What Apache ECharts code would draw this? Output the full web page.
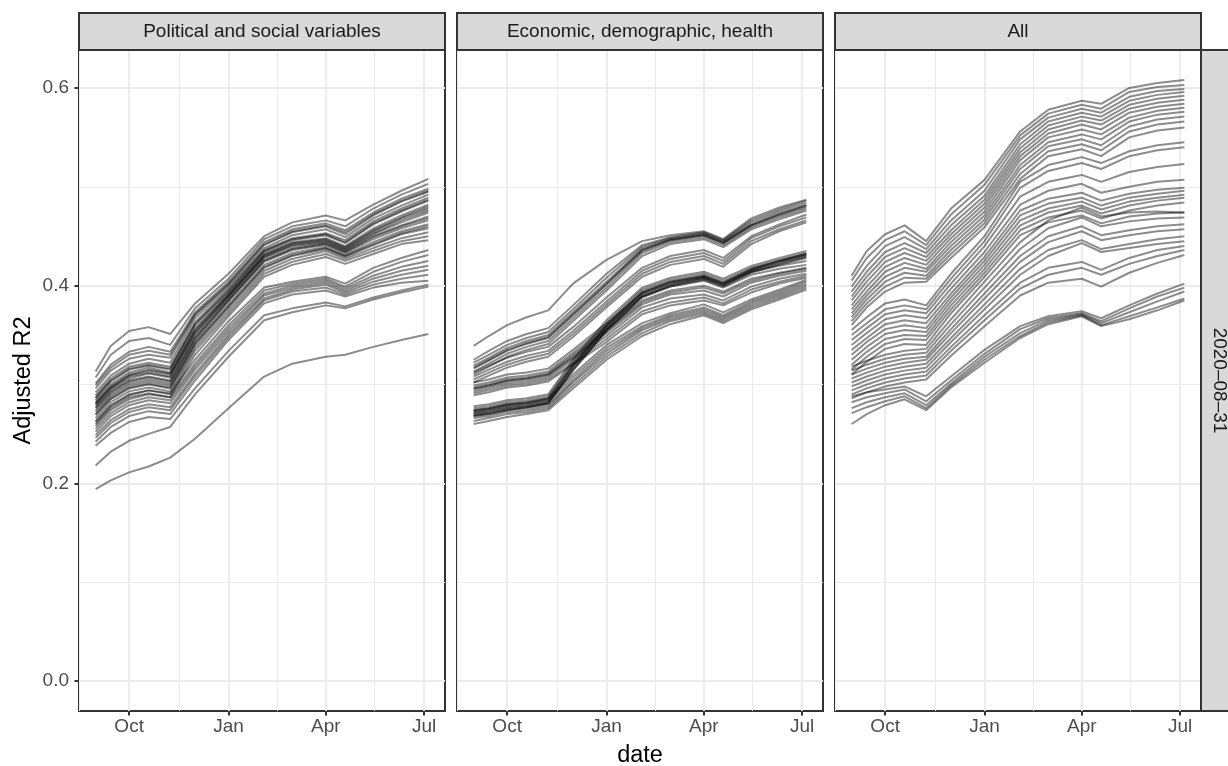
<!DOCTYPE html>
<html>
<head>
<meta charset="utf-8">
<script src="https://cdn.jsdelivr.net/npm/echarts@6/dist/echarts.min.js"></script>
<style>
  html, body { margin: 0; padding: 0; background: #ffffff; }
  #chart { width: 1228px; height: 766px; }
</style>
</head>
<body>
<div id="chart"></div>
<script>
// Facet titles and the single row label
const panelTitles = ['Political and social variables', 'Economic, demographic, health', 'All'];
const rowLabel = '2020\u201308\u201331';
const yTitle = 'Adjusted R2';
const xTitle = 'date';

// Dates at which each model's adjusted R2 was recorded
const sampleDates = ['2020-08-31', '2020-09-14', '2020-10-01', '2020-10-19', '2020-11-08', '2020-12-01', '2021-01-01',
                     '2021-02-03', '2021-03-01', '2021-04-01', '2021-04-19', '2021-05-15', '2021-06-10', '2021-07-05'];

// Axis breaks
const xTickDates = ['2020-10-01', '2021-01-01', '2021-04-01', '2021-07-01'];
const xTickLabels = ['Oct', 'Jan', 'Apr', 'Jul'];
const xMinorDates = ['2020-08-16', '2020-11-16', '2021-02-15', '2021-05-16'];
const yTicks = [0, 0.2, 0.4, 0.6];
const yMinorTicks = [0.1, 0.3, 0.5];

// Adjusted R2 per model (one row per model, one value per sample date)
const politicalSocial = [
  [0.313,0.339,0.354,0.358,0.351,0.382,0.412,0.450,0.464,0.471,0.466,0.482,0.496,0.508],
  [0.307,0.330,0.344,0.347,0.340,0.377,0.407,0.447,0.460,0.466,0.460,0.478,0.492,0.503],
  [0.301,0.320,0.333,0.338,0.333,0.373,0.404,0.444,0.457,0.463,0.456,0.474,0.488,0.498],
  [0.299,0.317,0.330,0.334,0.330,0.371,0.402,0.442,0.455,0.461,0.454,0.472,0.486,0.496],
  [0.296,0.314,0.326,0.330,0.327,0.370,0.401,0.441,0.454,0.460,0.452,0.471,0.485,0.495],
  [0.292,0.309,0.321,0.326,0.322,0.367,0.399,0.438,0.451,0.457,0.449,0.468,0.481,0.492],
  [0.289,0.306,0.318,0.322,0.318,0.363,0.397,0.436,0.448,0.453,0.446,0.465,0.478,0.489],
  [0.287,0.304,0.316,0.320,0.316,0.361,0.395,0.435,0.447,0.452,0.444,0.463,0.476,0.487],
  [0.286,0.303,0.315,0.319,0.315,0.360,0.394,0.434,0.446,0.451,0.443,0.462,0.475,0.486],
  [0.284,0.300,0.312,0.317,0.312,0.357,0.392,0.432,0.444,0.448,0.440,0.458,0.471,0.482],
  [0.282,0.298,0.310,0.315,0.311,0.355,0.391,0.431,0.443,0.447,0.439,0.456,0.469,0.480],
  [0.281,0.297,0.309,0.314,0.310,0.354,0.390,0.430,0.442,0.446,0.438,0.455,0.468,0.478],
  [0.280,0.296,0.308,0.312,0.308,0.352,0.389,0.429,0.441,0.445,0.437,0.453,0.466,0.476],
  [0.279,0.295,0.306,0.311,0.307,0.351,0.388,0.428,0.440,0.444,0.436,0.452,0.464,0.474],
  [0.277,0.293,0.304,0.308,0.304,0.348,0.386,0.426,0.438,0.443,0.435,0.450,0.461,0.470],
  [0.276,0.292,0.303,0.307,0.303,0.347,0.385,0.425,0.437,0.442,0.434,0.449,0.460,0.468],
  [0.274,0.290,0.301,0.305,0.301,0.345,0.384,0.424,0.436,0.441,0.433,0.447,0.458,0.466],
  [0.272,0.288,0.299,0.303,0.299,0.343,0.381,0.421,0.433,0.439,0.431,0.444,0.455,0.462],
  [0.270,0.286,0.297,0.301,0.297,0.341,0.379,0.419,0.431,0.438,0.430,0.442,0.453,0.460],
  [0.269,0.285,0.296,0.300,0.296,0.340,0.378,0.418,0.430,0.437,0.429,0.441,0.452,0.458],
  [0.266,0.282,0.293,0.297,0.293,0.337,0.375,0.415,0.427,0.435,0.427,0.438,0.448,0.454],
  [0.263,0.279,0.290,0.294,0.290,0.334,0.372,0.412,0.424,0.432,0.425,0.435,0.445,0.450],
  [0.260,0.276,0.287,0.291,0.287,0.330,0.369,0.409,0.421,0.429,0.422,0.432,0.442,0.446],
  [0.262,0.278,0.289,0.294,0.291,0.325,0.364,0.398,0.404,0.409,0.402,0.418,0.428,0.436],
  [0.258,0.274,0.285,0.290,0.287,0.321,0.360,0.395,0.402,0.407,0.399,0.414,0.424,0.431],
  [0.255,0.271,0.282,0.287,0.284,0.318,0.357,0.392,0.400,0.405,0.397,0.410,0.419,0.425],
  [0.252,0.268,0.279,0.284,0.281,0.315,0.354,0.390,0.398,0.403,0.395,0.407,0.415,0.420],
  [0.249,0.264,0.275,0.280,0.277,0.311,0.351,0.387,0.396,0.401,0.393,0.404,0.411,0.416],
  [0.246,0.261,0.272,0.277,0.274,0.308,0.348,0.385,0.394,0.398,0.391,0.401,0.407,0.411],
  [0.242,0.257,0.268,0.273,0.270,0.304,0.345,0.382,0.391,0.395,0.389,0.398,0.403,0.405],
  [0.238,0.251,0.262,0.267,0.265,0.296,0.334,0.370,0.377,0.383,0.379,0.388,0.395,0.401],
  [0.218,0.232,0.243,0.250,0.257,0.290,0.328,0.365,0.373,0.380,0.377,0.386,0.393,0.399],
  [0.194,0.203,0.211,0.217,0.226,0.245,0.276,0.308,0.321,0.328,0.330,0.338,0.345,0.351]
];

const economicDemographicHealth = [
  [0.339,0.349,0.360,0.368,0.375,0.402,0.426,0.445,0.451,0.455,0.447,0.468,0.479,0.487],
  [0.325,0.334,0.344,0.351,0.357,0.380,0.412,0.441,0.449,0.454,0.446,0.466,0.477,0.486],
  [0.322,0.330,0.340,0.347,0.353,0.376,0.408,0.439,0.448,0.453,0.445,0.464,0.475,0.484],
  [0.319,0.327,0.337,0.344,0.350,0.373,0.404,0.437,0.447,0.452,0.444,0.462,0.473,0.482],
  [0.317,0.325,0.335,0.342,0.348,0.371,0.402,0.436,0.446,0.451,0.443,0.461,0.472,0.481],
  [0.316,0.324,0.334,0.341,0.347,0.370,0.401,0.435,0.446,0.451,0.443,0.461,0.471,0.480],
  [0.313,0.321,0.331,0.338,0.344,0.367,0.398,0.433,0.444,0.449,0.441,0.459,0.469,0.478],
  [0.310,0.318,0.328,0.335,0.341,0.364,0.395,0.430,0.442,0.447,0.439,0.457,0.467,0.476],
  [0.312,0.319,0.327,0.333,0.338,0.358,0.388,0.418,0.430,0.436,0.428,0.450,0.462,0.472],
  [0.308,0.315,0.323,0.329,0.334,0.354,0.384,0.415,0.427,0.433,0.425,0.448,0.460,0.469],
  [0.305,0.312,0.320,0.326,0.331,0.351,0.381,0.412,0.424,0.430,0.422,0.445,0.457,0.466],
  [0.302,0.309,0.317,0.323,0.328,0.348,0.378,0.409,0.421,0.427,0.419,0.442,0.455,0.464],
  [0.302,0.305,0.310,0.312,0.316,0.335,0.362,0.392,0.402,0.408,0.401,0.414,0.420,0.425],
  [0.299,0.302,0.307,0.309,0.313,0.332,0.359,0.389,0.399,0.405,0.398,0.411,0.417,0.421],
  [0.297,0.300,0.305,0.307,0.311,0.330,0.356,0.385,0.395,0.400,0.394,0.407,0.413,0.418],
  [0.296,0.299,0.304,0.306,0.310,0.328,0.354,0.383,0.393,0.398,0.392,0.405,0.412,0.417],
  [0.295,0.298,0.303,0.305,0.309,0.327,0.352,0.381,0.391,0.395,0.389,0.403,0.410,0.415],
  [0.293,0.296,0.301,0.303,0.307,0.325,0.349,0.378,0.387,0.391,0.385,0.399,0.407,0.412],
  [0.291,0.294,0.299,0.301,0.305,0.322,0.346,0.374,0.383,0.388,0.382,0.396,0.404,0.410],
  [0.289,0.292,0.297,0.299,0.303,0.320,0.343,0.371,0.380,0.385,0.380,0.393,0.402,0.408],
  [0.278,0.280,0.284,0.286,0.290,0.325,0.365,0.398,0.408,0.414,0.407,0.420,0.428,0.435],
  [0.276,0.278,0.282,0.284,0.288,0.322,0.362,0.396,0.406,0.412,0.405,0.418,0.426,0.433],
  [0.274,0.276,0.280,0.282,0.286,0.320,0.360,0.394,0.404,0.410,0.403,0.417,0.425,0.432],
  [0.273,0.275,0.279,0.281,0.285,0.319,0.359,0.393,0.404,0.410,0.403,0.416,0.425,0.432],
  [0.272,0.274,0.278,0.280,0.284,0.318,0.358,0.392,0.403,0.409,0.402,0.416,0.424,0.431],
  [0.270,0.272,0.276,0.278,0.282,0.316,0.356,0.390,0.401,0.408,0.401,0.415,0.423,0.430],
  [0.269,0.271,0.275,0.277,0.281,0.315,0.355,0.389,0.400,0.407,0.400,0.414,0.422,0.429],
  [0.268,0.270,0.274,0.277,0.281,0.314,0.354,0.388,0.399,0.406,0.399,0.413,0.421,0.428],
  [0.274,0.276,0.280,0.282,0.286,0.310,0.340,0.362,0.372,0.381,0.373,0.386,0.396,0.406],
  [0.271,0.273,0.277,0.279,0.283,0.307,0.337,0.359,0.370,0.378,0.370,0.384,0.394,0.404],
  [0.268,0.270,0.274,0.276,0.280,0.304,0.334,0.357,0.368,0.376,0.368,0.382,0.392,0.402],
  [0.266,0.268,0.272,0.274,0.278,0.302,0.331,0.355,0.366,0.374,0.366,0.380,0.390,0.400],
  [0.263,0.266,0.270,0.272,0.276,0.299,0.328,0.352,0.364,0.372,0.364,0.378,0.388,0.398],
  [0.260,0.263,0.267,0.270,0.274,0.296,0.325,0.349,0.361,0.370,0.362,0.376,0.386,0.396]
];

const allVariables = [
  [0.410,0.435,0.452,0.461,0.445,0.478,0.507,0.556,0.578,0.587,0.584,0.600,0.605,0.608],
  [0.405,0.428,0.446,0.455,0.441,0.472,0.502,0.552,0.574,0.583,0.579,0.596,0.601,0.603],
  [0.399,0.420,0.440,0.449,0.437,0.466,0.496,0.548,0.570,0.579,0.575,0.591,0.597,0.599],
  [0.394,0.414,0.434,0.443,0.433,0.461,0.491,0.543,0.566,0.575,0.571,0.587,0.593,0.596],
  [0.389,0.409,0.429,0.438,0.429,0.456,0.487,0.539,0.562,0.571,0.567,0.583,0.589,0.592],
  [0.385,0.404,0.424,0.433,0.425,0.452,0.483,0.535,0.558,0.567,0.563,0.579,0.585,0.588],
  [0.380,0.399,0.419,0.428,0.421,0.448,0.479,0.531,0.554,0.563,0.558,0.575,0.581,0.584],
  [0.376,0.394,0.414,0.423,0.417,0.444,0.475,0.527,0.550,0.558,0.553,0.570,0.577,0.580],
  [0.372,0.390,0.409,0.418,0.414,0.440,0.471,0.522,0.545,0.553,0.548,0.566,0.573,0.576],
  [0.368,0.386,0.404,0.413,0.410,0.436,0.467,0.518,0.541,0.548,0.542,0.561,0.568,0.571],
  [0.364,0.382,0.399,0.408,0.407,0.432,0.463,0.513,0.536,0.543,0.537,0.556,0.563,0.566],
  [0.360,0.378,0.394,0.403,0.404,0.428,0.459,0.508,0.531,0.538,0.531,0.550,0.557,0.560],
  [0.355,0.368,0.382,0.386,0.380,0.412,0.450,0.505,0.522,0.530,0.524,0.536,0.542,0.545],
  [0.350,0.362,0.376,0.380,0.376,0.407,0.445,0.499,0.516,0.524,0.518,0.531,0.537,0.540],
  [0.345,0.357,0.371,0.375,0.372,0.402,0.440,0.490,0.505,0.512,0.505,0.515,0.520,0.523],
  [0.340,0.352,0.366,0.370,0.367,0.397,0.434,0.482,0.496,0.503,0.494,0.500,0.505,0.507],
  [0.335,0.347,0.361,0.365,0.362,0.392,0.429,0.476,0.488,0.494,0.486,0.493,0.497,0.499],
  [0.330,0.343,0.356,0.360,0.357,0.388,0.425,0.471,0.483,0.489,0.481,0.489,0.493,0.496],
  [0.325,0.338,0.351,0.355,0.353,0.384,0.421,0.466,0.478,0.485,0.477,0.485,0.489,0.492],
  [0.320,0.333,0.346,0.350,0.349,0.380,0.417,0.461,0.474,0.481,0.473,0.481,0.486,0.489],
  [0.315,0.328,0.341,0.346,0.345,0.376,0.413,0.456,0.469,0.476,0.468,0.476,0.481,0.484],
  [0.310,0.323,0.336,0.341,0.340,0.372,0.409,0.451,0.464,0.471,0.463,0.470,0.473,0.474],
  [0.318,0.324,0.330,0.334,0.336,0.366,0.404,0.444,0.466,0.479,0.470,0.474,0.475,0.474],
  [0.314,0.320,0.326,0.330,0.332,0.361,0.398,0.437,0.458,0.469,0.460,0.465,0.468,0.469],
  [0.310,0.316,0.322,0.326,0.328,0.356,0.392,0.430,0.450,0.460,0.451,0.456,0.460,0.462],
  [0.306,0.312,0.318,0.322,0.325,0.352,0.387,0.424,0.444,0.455,0.446,0.451,0.455,0.457],
  [0.302,0.308,0.314,0.318,0.321,0.347,0.381,0.417,0.436,0.446,0.437,0.442,0.447,0.450],
  [0.298,0.304,0.310,0.314,0.317,0.343,0.376,0.411,0.430,0.443,0.434,0.438,0.442,0.445],
  [0.294,0.300,0.306,0.310,0.313,0.338,0.370,0.403,0.418,0.424,0.416,0.428,0.436,0.440],
  [0.290,0.296,0.302,0.306,0.309,0.334,0.365,0.397,0.411,0.418,0.411,0.422,0.430,0.436],
  [0.286,0.292,0.298,0.302,0.305,0.329,0.359,0.390,0.403,0.407,0.399,0.413,0.423,0.431],
  [0.288,0.292,0.295,0.298,0.288,0.308,0.335,0.359,0.369,0.374,0.367,0.380,0.392,0.402],
  [0.282,0.287,0.291,0.295,0.283,0.304,0.331,0.356,0.367,0.372,0.364,0.377,0.389,0.398],
  [0.276,0.282,0.287,0.291,0.279,0.301,0.328,0.352,0.365,0.371,0.362,0.373,0.384,0.394],
  [0.271,0.277,0.283,0.288,0.276,0.299,0.325,0.349,0.363,0.370,0.360,0.369,0.378,0.387],
  [0.260,0.270,0.279,0.285,0.274,0.297,0.322,0.347,0.361,0.369,0.359,0.366,0.375,0.385]
];

const panels = [politicalSocial, economicDemographicHealth, allVariables];

// ---- scales (ggplot-style 5% expansion, y range anchored at 0) ----
const toTime = s => new Date(s + 'T00:00:00Z').getTime();
const sampleTimes = sampleDates.map(toTime);
const xTickTimes = xTickDates.map(toTime);
const xMinorTimes = xMinorDates.map(toTime);
const xSpan = sampleTimes[sampleTimes.length - 1] - sampleTimes[0];
const xMin = sampleTimes[0] - 0.05 * xSpan;
const xMax = sampleTimes[sampleTimes.length - 1] + 0.05 * xSpan;

let yHi = 0;
panels.forEach(p => p.forEach(row => row.forEach(v => { if (v > yHi) yHi = v; })));
const yLo = 0;
const yMin = yLo - 0.05 * (yHi - yLo);
const yMax = yHi + 0.05 * (yHi - yLo);

// ---- layout ----
const FONT = '"Liberation Sans", Arial, Helvetica, sans-serif';
const panelLeft = [79, 457, 835];
const panelWidth = 366;
const panelTop = 50;
const panelHeight = 661;
const stripTop = 13;
const stripHeight = panelTop - stripTop;
const borderColor = '#333333';
const frameWidth = 2;
const gridColor = '#ebebeb';

const monthLabel = v => {
  let best = 0;
  xTickTimes.forEach((t, i) => { if (Math.abs(t - v) < Math.abs(xTickTimes[best] - v)) best = i; });
  return xTickLabels[best];
};

const grid = panelLeft.map(l => ({
  left: l, top: panelTop, width: panelWidth, height: panelHeight,
  show: true, borderColor: borderColor, borderWidth: frameWidth, containLabel: false
}));

const tickStyle = { color: borderColor, width: frameWidth };

const xAxis = [];
const yAxis = [];
panelLeft.forEach((l, i) => {
  xAxis.push({
    type: 'value', gridIndex: i, min: xMin, max: xMax, position: 'bottom',
    axisLine: { show: false, onZero: false },
    axisTick: { show: true, length: 4.5, customValues: xTickTimes, lineStyle: tickStyle },
    axisLabel: { show: true, customValues: xTickTimes, formatter: monthLabel, color: '#4d4d4d',
                 fontSize: 19, fontFamily: FONT, margin: 6 },
    splitLine: { show: true, lineStyle: { color: gridColor, width: 1.8 } }
  });
  yAxis.push({
    type: 'value', gridIndex: i, min: yMin, max: yMax, position: 'left',
    axisLine: { show: false, onZero: false },
    axisTick: { show: i === 0, length: 4.5, customValues: yTicks, lineStyle: tickStyle },
    axisLabel: { show: i === 0, customValues: yTicks, formatter: v => v.toFixed(1), color: '#4d4d4d',
                 fontSize: 19, fontFamily: FONT, margin: 10 },
    splitLine: { show: true, lineStyle: { color: gridColor, width: 1.8 } }
  });
});
// minor grid lines
panelLeft.forEach((l, i) => {
  xAxis.push({
    type: 'value', gridIndex: i, min: xMin, max: xMax, position: 'top',
    axisLine: { show: false, onZero: false }, axisLabel: { show: false },
    axisTick: { show: false, customValues: xMinorTimes },
    splitLine: { show: true, lineStyle: { color: gridColor, width: 1 } }
  });
  yAxis.push({
    type: 'value', gridIndex: i, min: yMin, max: yMax, position: 'right',
    axisLine: { show: false, onZero: false }, axisLabel: { show: false },
    axisTick: { show: false, customValues: yMinorTicks },
    splitLine: { show: true, lineStyle: { color: gridColor, width: 1 } }
  });
});

const series = [];
panels.forEach((rows, p) => {
  rows.forEach((row, k) => {
    series.push({
      type: 'line', xAxisIndex: p, yAxisIndex: p,
      name: panelTitles[p] + ' ' + (k + 1),
      data: row.map((v, j) => [sampleTimes[j], v]),
      showSymbol: false, symbol: 'none', silent: true, z: 3,
      lineStyle: { color: 'rgba(0,0,0,0.45)', width: 2, join: 'round' }
    });
  });
});

const graphic = [];
panelLeft.forEach((l, i) => {
  graphic.push({
    type: 'rect', shape: { x: l, y: stripTop, width: panelWidth, height: stripHeight },
    style: { fill: '#d9d9d9', stroke: borderColor, lineWidth: frameWidth }, z: 10
  });
  graphic.push({
    type: 'text', x: l + panelWidth / 2, y: stripTop + stripHeight / 2 + 0.5, z: 11,
    style: { text: panelTitles[i], fontSize: 19, fontFamily: FONT, fill: '#1a1a1a',
             align: 'center', verticalAlign: 'middle' }
  });
});
graphic.push({
  type: 'rect', shape: { x: panelLeft[2] + panelWidth, y: panelTop, width: 40, height: panelHeight },
  style: { fill: '#d9d9d9', stroke: borderColor, lineWidth: frameWidth }, z: 10
});
graphic.push({
  type: 'text', x: panelLeft[2] + panelWidth + 18.5, y: panelTop + panelHeight / 2, rotation: -Math.PI / 2, z: 11,
  style: { text: rowLabel, fontSize: 19, fontFamily: FONT, fill: '#1a1a1a', align: 'center', verticalAlign: 'middle' }
});
graphic.push({
  type: 'text', x: 24, y: panelTop + panelHeight / 2, rotation: Math.PI / 2, z: 11,
  style: { text: yTitle, fontSize: 23.5, fontFamily: FONT, fill: '#000000', align: 'center', verticalAlign: 'middle' }
});
graphic.push({
  type: 'text', x: (panelLeft[0] + panelLeft[2] + panelWidth) / 2, y: 756, z: 11,
  style: { text: xTitle, fontSize: 23.5, fontFamily: FONT, fill: '#000000', align: 'center', verticalAlign: 'middle' }
});

const chart = echarts.init(document.getElementById('chart'), null, { renderer: 'canvas' });
chart.setOption({
  animation: false,
  backgroundColor: '#ffffff',
  grid: grid,
  xAxis: xAxis,
  yAxis: yAxis,
  series: series,
  graphic: graphic
});
</script>
</body>
</html>
